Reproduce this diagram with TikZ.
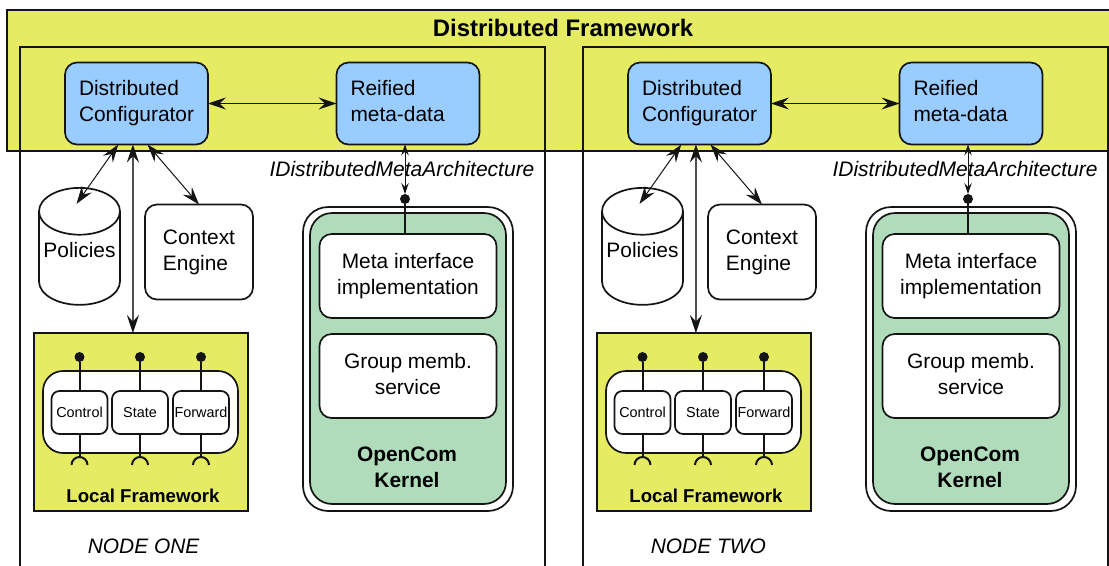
\documentclass[tikz,border=0pt]{standalone}
\usepackage{fontspec}
\setmainfont{Liberation Sans}
\usetikzlibrary{positioning, arrows.meta, shapes.geometric, calc}
\definecolor{FrameColor}{RGB}{229,236,100}
\definecolor{MetaColor}{RGB}{153,204,255}
\definecolor{KernelColor}{RGB}{176,220,188}
\definecolor{LineColor}{RGB}{20,20,20}
\tikzstyle{metabox} = [rectangle, rounded corners=2.4mm, draw=LineColor, line width=0.34mm, fill=MetaColor, minimum width=2.86cm, minimum height=1.64cm, text width=2.3cm, align=left, font=\fontsize{11.9pt}{14.8pt}\selectfont, inner sep=0pt]
\tikzstyle{whitebox} = [rectangle, rounded corners=2.4mm, draw=LineColor, line width=0.34mm, fill=white, align=center, font=\fontsize{11.9pt}{14.8pt}\selectfont, inner sep=0pt]
\tikzstyle{smallbox} = [whitebox, rounded corners=1.6mm, minimum width=1.12cm, minimum height=0.86cm, font=\fontsize{8.2pt}{10pt}\selectfont]
\tikzstyle{arrow} = [line width=0.2mm, LineColor, {Stealth[length=3.6mm, width=2.4mm, inset=1.3mm, color=LineColor]}-{Stealth[length=3.6mm, width=2.4mm, inset=1.3mm, color=LineColor]}]
\tikzstyle{thinarrow} = [line width=0.2mm, LineColor, {Stealth[length=2.2mm, width=1.5mm, inset=0.8mm]}-{Stealth[length=2.2mm, width=1.5mm, inset=0.8mm]}]
\tikzstyle{stem} = [line width=0.4mm, LineColor]
\tikzstyle{pin} = [circle, fill=LineColor, inner sep=0pt, minimum size=2mm]

\begin{document}
\begin{tikzpicture}[x=0.02cm, y=-0.02cm, every node/.append style={outer sep=0pt}]
    \clip (0,0) rectangle (1109,565);

    % Distributed framework band
    \node[rectangle, draw=LineColor, line width=0.34mm, fill=FrameColor, minimum width=22.4cm, minimum height=2.82cm, anchor=north west] (band) at (7,10) {};
    \node[font=\fontsize{13.6pt}{15pt}\selectfont\bfseries] (title) at (563,28) {Distributed Framework};

    \foreach \ox/\nm/\lbl in {0/one/ONE,563/two/TWO} {
        \begin{scope}[shift={(\ox,0)}, name prefix=\nm-]
            % Node frame
            \node[rectangle, draw=LineColor, line width=0.34mm, minimum width=10.5cm, minimum height=12cm, anchor=north west] (frame) at (20,47) {};

            % Meta level
            \node[metabox] (dc) at (136.5,103.5) {\strut Distributed\\\strut Configurator};
            \node[metabox] (rmd) at (408,103.5) {\strut Reified\\\strut meta-data};
            \draw[arrow] (dc.east) -- (rmd.west);

            % Policies and context
            \node[cylinder, shape border rotate=90, aspect=0.65, draw=LineColor, line width=0.34mm, fill=white, minimum width=1.62cm, minimum height=2.34cm, inner sep=0pt, font=\fontsize{11.9pt}{14.8pt}\selectfont] (db) at (79.5,258.5) {\raisebox{0.2mm}[0pt][0pt]{Policies}};
            \node[whitebox, align=left, minimum width=2.16cm, minimum height=1.9cm] (ctx) at (199,252) {\strut Context\\\strut Engine};
            \draw[arrow] (dc.-114) -- ($(db.top)+(-3,16)$);
            \draw[arrow] (dc.-75) -- (ctx.north);

            % Local framework
            \node[rectangle, draw=LineColor, line width=0.34mm, fill=FrameColor, minimum width=4.28cm, minimum height=3.56cm] (lf) at (141,422) {};
            \node[font=\fontsize{10.6pt}{12pt}\selectfont\bfseries] (lflabel) at (143,496) {Local Framework};
            \node[whitebox, rounded corners=4mm, minimum width=3.9cm, minimum height=1.64cm] (comp) at (140.5,412) {};
            \draw[arrow, line width=0.35mm, draw=LineColor!75] (dc.-95) -- (lf.north -| dc.-95);

            % Components with their pins and sockets
            \foreach \cx/\cn/\ct in {79.5/ctl/Control,140/sta/State,201/fwd/Forward} {
                \node[smallbox] (\cn) at (\cx,412.5) {\ct};
                \node[pin] (\cn pin) at (\cx,357) {};
                \coordinate (\cn sock) at (\cx,457);
                \draw[stem] (\cn pin) -- (\cn);
                \draw[stem] (\cn) -- (\cn sock);
                \draw[stem] (\cn sock) ++(-8,8) arc[start angle=180, end angle=0, radius=0.16cm];
            }

            % OpenCom kernel
            \node[whitebox, rounded corners=5mm, minimum width=4.2cm, minimum height=6.08cm] (outer) at (408,359) {};
            \node[whitebox, rounded corners=4.4mm, fill=KernelColor, minimum width=3.92cm, minimum height=5.82cm] (kernel) at (408,358.5) {};
            \node[whitebox, minimum width=3.54cm, minimum height=1.68cm] (meta) at (408,276) {\strut Meta interface\\\strut implementation};
            \node[whitebox, minimum width=3.54cm, minimum height=1.68cm] (group) at (408,376) {\strut Group memb.\\\strut service};
            \node[align=center, font=\fontsize{11.9pt}{14.8pt}\selectfont\bfseries] (oclabel) at (407,467) {OpenCom\\Kernel};

            % Meta interface
            \node[font=\fontsize{11.95pt}{14pt}\selectfont\itshape] (mialabel) at (402,169) {IDistributedMetaArchitecture};
            \node[pin] (mipin) at (405,199) {};
            \draw[stem] (mipin) -- (meta.north -| mipin);
            \draw[thinarrow] (rmd.south -| mipin) -- (mipin);

            \node[anchor=west, font=\fontsize{11.9pt}{14pt}\selectfont\itshape] (nodelabel) at (82,546) {NODE \lbl};
        \end{scope}
    }
\end{tikzpicture}
\end{document}
